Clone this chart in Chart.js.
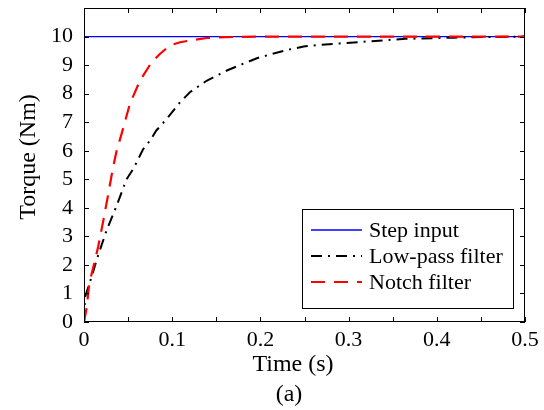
<!DOCTYPE html>
<html>
<head>
<meta charset="utf-8">
<script src="https://cdn.jsdelivr.net/npm/chart.js@4/dist/chart.umd.min.js"></script>
<style>
  html, body { margin: 0; padding: 0; background: #fff; }
  #wrap { width: 544px; height: 410px; }
</style>
</head>
<body>
<div id="wrap"><canvas id="grafico"></canvas></div>
<script>
// valores
const tempoDegrau = [0, 0.5];
const torqueDegrau = [10, 10];

const tempoPassaBaixa = [0, 0.001, 0.0098, 0.0136, 0.0174, 0.0257, 0.035, 0.040, 0.048, 0.056, 0.067, 0.075,
  0.082, 0.094, 0.109, 0.12, 0.1315, 0.139, 0.162, 0.18, 0.196, 0.213, 0.23, 0.249, 0.264, 0.29, 0.322,
  0.364, 0.42, 0.45, 0.5];
const torquePassaBaixa = [0, 0.85, 1.7, 2.1, 2.46, 3.22, 3.92, 4.32, 4.99, 5.37, 6.05, 6.36,
  6.71, 7.12, 7.7, 8.05, 8.29, 8.45, 8.81, 9.04, 9.24, 9.39, 9.53, 9.65, 9.7, 9.76, 9.83,
  9.92, 9.96, 9.98, 10];

const tempoNotch = [0, 0.003, 0.006, 0.0125, 0.016, 0.022, 0.0276, 0.033, 0.037, 0.0427, 0.052, 0.0635,
  0.0767, 0.086, 0.0975, 0.109, 0.124, 0.139, 0.16, 0.2, 0.5];
const torqueNotch = [0, 0.5, 1.35, 2.17, 2.63, 3.57, 4.5, 5.43, 6.0, 6.6, 7.64, 8.46,
  9.1, 9.39, 9.69, 9.8, 9.88, 9.95, 9.98, 10, 10];

const rotulosX = ['0', '0.1', '0.2', '0.3', '0.4', '0.5'];
const rotulosY = ['0', '1', '2', '3', '4', '5', '6', '7', '8', '9', '10'];

function pontos(xs, ys) {
  return xs.map(function (x, i) { return { x: x, y: ys[i] }; });
}

const fonte = 'Liberation Serif';

// moldura, marcas internas, títulos e legenda
const moldura = {
  id: 'moldura',
  afterDraw: function (chart) {
    const ctx = chart.ctx;
    const a = chart.chartArea;
    const sx = chart.scales.x, sy = chart.scales.y;
    ctx.save();
    ctx.strokeStyle = '#000';
    ctx.lineWidth = 1;
    ctx.strokeRect(Math.round(a.left) + 0.5, Math.round(a.top) + 0.5,
      Math.round(a.right - a.left) - 1, Math.round(a.bottom - a.top) - 1);
    ctx.beginPath();
    for (let i = 0; i <= 10; i++) {
      const px = Math.round(sx.getPixelForValue(i * 0.05)) + 0.5;
      ctx.moveTo(px, a.bottom); ctx.lineTo(px, a.bottom - 5);
      ctx.moveTo(px, a.top); ctx.lineTo(px, a.top + 5);
    }
    for (let v = 0; v <= 11; v++) {
      const py = Math.round(sy.getPixelForValue(v)) + 0.5;
      ctx.moveTo(a.left, py); ctx.lineTo(a.left + 5, py);
      ctx.moveTo(a.right, py); ctx.lineTo(a.right - 5, py);
    }
    ctx.stroke();

    ctx.fillStyle = '#000';
    ctx.font = '24px "' + fonte + '"';
    ctx.textAlign = 'center';
    ctx.textBaseline = 'alphabetic';
    ctx.fillText('Time (s)', 293, 371);
    ctx.fillText('(a)', 289, 401);
    ctx.save();
    ctx.translate(35, 157);
    ctx.rotate(-Math.PI / 2);
    ctx.fillText('Torque (Nm)', 0, 0);
    ctx.restore();

    // legenda
    const lx = 302, ly = 209, lw = 211, lh = 99;
    ctx.fillStyle = '#fff';
    ctx.fillRect(lx, ly, lw, lh);
    ctx.strokeStyle = '#000';
    ctx.lineWidth = 1;
    ctx.strokeRect(lx + 0.5, ly + 0.5, lw, lh);
    ctx.font = '22px "' + fonte + '"';
    ctx.textAlign = 'left';
    ctx.textBaseline = 'middle';
    chart.data.datasets.forEach(function (ds, i) {
      const y = 230 + i * 26;
      ctx.strokeStyle = ds.borderColor;
      ctx.lineWidth = ds.borderWidth;
      ctx.setLineDash(ds.borderDash || []);
      ctx.beginPath();
      ctx.moveTo(311, y); ctx.lineTo(362, y);
      ctx.stroke();
      ctx.setLineDash([]);
      ctx.fillStyle = '#000';
      ctx.fillText(ds.label, 369, y + 1);
    });
    ctx.restore();
  }
};

new Chart(document.getElementById('grafico'), {
  type: 'line',
  data: {
    datasets: [
      {
        label: 'Step input',
        data: pontos(tempoDegrau, torqueDegrau),
        borderColor: '#0000ff',
        borderWidth: 1.3,
        order: 3
      },
      {
        label: 'Low-pass filter',
        data: pontos(tempoPassaBaixa, torquePassaBaixa),
        borderColor: '#000000',
        borderWidth: 2,
        borderDash: [11, 6, 2, 6],
        order: 2
      },
      {
        label: 'Notch filter',
        data: pontos(tempoNotch, torqueNotch),
        borderColor: '#ff0000',
        borderWidth: 2.2,
        borderDash: [14, 9],
        order: 1
      }
    ]
  },
  options: {
    responsive: true,
    maintainAspectRatio: false,
    animation: false,
    layout: { padding: { left: 0, right: 19, top: 8, bottom: 0 } },
    elements: { point: { radius: 0 }, line: { tension: 0 } },
    plugins: { legend: { display: false }, tooltip: { enabled: false } },
    scales: {
      x: {
        type: 'linear',
        min: 0,
        max: 0.5,
        grid: { display: false, drawTicks: false },
        border: { display: false },
        afterFit: function (s) {
          s.height = 88;
          s.paddingLeft = 0;
          s.paddingRight = 0;
        },
        ticks: {
          stepSize: 0.05,
          autoSkip: false,
          maxRotation: 0,
          padding: 5,
          color: '#000',
          font: { family: fonte, size: 22 },
          callback: function (v) {
            const k = Math.round(v * 20);
            return k % 2 === 0 ? rotulosX[k / 2] : null;
          }
        }
      },
      y: {
        min: 0,
        max: 11,
        grid: { display: false, drawTicks: false },
        border: { display: false },
        afterFit: function (s) {
          s.width = 84;
          s.paddingTop = 0;
          s.paddingBottom = 0;
        },
        ticks: {
          stepSize: 1,
          padding: 11,
          color: '#000',
          font: { family: fonte, size: 22 },
          callback: function (v) {
            return v <= 10 ? rotulosY[Math.round(v)] : null;
          }
        }
      }
    }
  },
  plugins: [moldura]
});
</script>
</body>
</html>
